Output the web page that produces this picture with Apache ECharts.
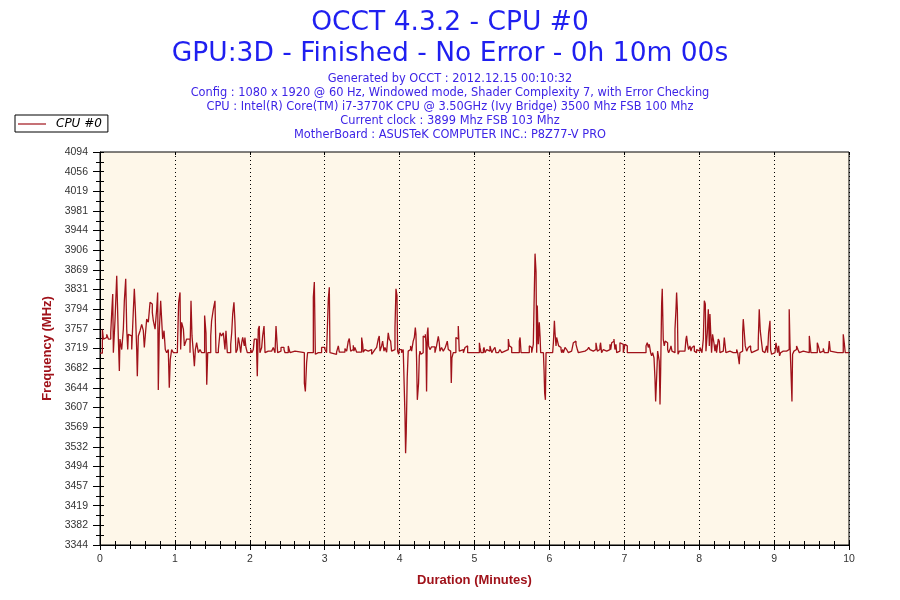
<!DOCTYPE html>
<html>
<head>
<meta charset="utf-8">
<script src="https://cdn.jsdelivr.net/npm/echarts@6/dist/echarts.min.js"></script>
<style>
html,body{margin:0;padding:0;background:#fff;}
#chart{width:900px;height:600px;}
</style>
</head>
<body>
<div id="chart"></div>
<script>
// ---- Text ----
const titleMain = 'OCCT 4.3.2 - CPU #0';
const titleSub = 'GPU:3D - Finished - No Error - 0h 10m 00s';
const infoLines = [
  'Generated by OCCT : 2012.12.15 00:10:32',
  'Config : 1080 x 1920 @ 60 Hz, Windowed mode, Shader Complexity 7, with Error Checking',
  'CPU : Intel(R) Core(TM) i7-3770K CPU @ 3.50GHz (Ivy Bridge) 3500 Mhz FSB 100 Mhz',
  'Current clock : 3899 Mhz FSB 103 Mhz',
  'MotherBoard : ASUSTeK COMPUTER INC.: P8Z77-V PRO'
];
const seriesName = 'CPU #0';
const yAxisName = 'Frequency (MHz)';
const xAxisName = 'Duration (Minutes)';

// ---- Axis ticks ----
const yTickLabels = ['3344','3382','3419','3457','3494','3532','3569','3607','3644','3682','3719',
  '3757','3794','3831','3869','3906','3944','3981','4019','4056','4094'];
const xTickLabels = ['0','1','2','3','4','5','6','7','8','9','10'];

// ---- Data: [elapsed seconds, MHz] ----
const cpu0Samples = [
[0,3710],[1.9,3755],[2.7,3737],[4.0,3740],[5.4,3746],[6.7,3737],[8.6,3749],[9.4,3788],[10.2,3823],[10.7,3711],
[12.0,3772],[13.4,3858],[14.7,3737],[15.5,3676],[16.0,3737],[17.4,3717],[18.7,3756],[19.5,3810],[20.6,3852],[21.4,3756],
[22.2,3717],[22.7,3746],[24.0,3743],[25.4,3717],[26.7,3791],[27.5,3833],[28.3,3794],[29.4,3717],[29.9,3666],[30.7,3743],
[32.1,3753],[33.4,3765],[34.7,3753],[35.5,3721],[36.6,3753],[37.4,3775],[38.7,3769],[40.1,3807],[41.1,3804],[41.9,3788],
[42.7,3772],[44.1,3756],[45.4,3794],[46.2,3826],[46.7,3640],[47.5,3753],[48.6,3810],[49.4,3807],[50.2,3737],[51.3,3753],
[52.3,3717],[53.4,3711],[54.7,3717],[55.5,3644],[56.3,3698],[57.4,3717],[58.8,3711],[62.0,3717],[63.0,3807],[64.1,3826],
[64.6,3717],[65.4,3769],[66.8,3756],[67.6,3724],[68.4,3730],[69.4,3737],[72.1,3711],[72.9,3810],[73.7,3743],[74.8,3711],
[75.6,3685],[76.4,3717],[77.4,3730],[78.8,3711],[80.1,3717],[81.4,3711],[83.8,3782],[84.9,3749],[85.5,3650],[86.3,3711],
[88.7,3743],[89.4,3772],[90.8,3794],[92.1,3810],[92.9,3711],[94.8,3717],[96.1,3749],[97.4,3743],[98.8,3749],[100.1,3717],
[100.9,3753],[102.0,3711],[104.7,3727],[105.5,3749],[106.3,3785],[107.3,3807],[108.1,3769],[108.9,3711],[110.0,3717],[110.8,3740],
[111.6,3730],[112.7,3711],[113.5,3730],[114.3,3740],[115.6,3724],[116.1,3740],[116.9,3721],[118.0,3711],[120.7,3717],[121.7,3711],
[122.8,3717],[123.6,3737],[125.5,3711],[126.0,3666],[126.8,3756],[127.6,3762],[128.1,3711],[129.5,3721],[130.3,3743],[131.4,3762],
[132.2,3711],[133.5,3714],[134.8,3711],[136.2,3714],[137.5,3717],[138.8,3721],[140.2,3711],[141.0,3762],[141.5,3743],[142.3,3711],
[143.6,3714],[145.0,3721],[147.4,3717],[148.2,3711],[150.8,3724],[151.6,3727],[152.2,3711],[153.5,3714],[156.2,3717],[157.5,3711],
[163.7,3653],[164.5,3637],[165.5,3692],[166.3,3711],[168.7,3714],[169.8,3711],[170.9,3817],[171.7,3846],[172.5,3708],[173.5,3711],
[174.9,3714],[176.2,3711],[177.5,3721],[180.2,3717],[181.5,3711],[182.9,3814],[183.7,3836],[184.2,3711],[185.0,3708],[189.5,3712],
[190.9,3724],[191.7,3712],[196.2,3719],[197.6,3714],[198.9,3733],[199.7,3738],[200.8,3714],[201.6,3717],[202.9,3725],[203.4,3714],
[204.2,3721],[205.6,3712],[209.6,3740],[210.4,3727],[210.9,3712],[212.2,3717],[213.6,3714],[214.9,3712],[216.2,3717],[217.6,3708],
[218.9,3712],[220.2,3717],[221.6,3721],[222.9,3737],[223.7,3743],[224.3,3714],[225.6,3724],[226.4,3733],[227.5,3714],[228.3,3721],
[229.6,3712],[230.9,3749],[231.7,3737],[232.8,3733],[233.6,3714],[234.9,3717],[236.3,3759],[237.1,3833],[237.9,3820],[238.4,3714],
[239.2,3708],[239.7,3717],[241.6,3711],[242.9,3717],[244.3,3592],[244.8,3519],[245.3,3557],[246.1,3663],[246.9,3714],[247.7,3717],
[248.8,3724],[249.6,3714],[250.9,3733],[251.8,3740],[252.6,3759],[253.1,3746],[253.6,3698],[254.2,3621],[254.7,3618],[255.2,3653],
[255.8,3705],[256.3,3714],[257.1,3708],[257.9,3711],[258.9,3743],[259.8,3740],[260.6,3746],[261.1,3730],[261.6,3637],[262.2,3749],
[262.7,3759],[263.2,3724],[264.3,3717],[265.6,3722],[268.3,3711],[269.6,3724],[271.0,3742],[271.8,3730],[272.3,3714],[273.6,3721],
[275.0,3714],[276.6,3721],[277.7,3724],[278.2,3733],[279.0,3717],[279.8,3714],[280.9,3711],[281.4,3653],[281.9,3701],[283.0,3711],
[285.1,3740],[286.2,3737],[287.0,3762],[287.8,3714],[288.4,3717],[291.1,3711],[292.4,3721],[293.7,3724],[294.5,3711],[303.9,3730],
[304.4,3721],[305.2,3711],[307.1,3717],[307.6,3721],[308.4,3711],[309.8,3717],[311.1,3714],[312.4,3724],[313.2,3721],[313.8,3711],
[315.1,3717],[316.4,3721],[317.2,3711],[319.1,3714],[320.4,3717],[321.8,3711],[323.1,3714],[324.4,3711],[325.8,3717],[327.1,3737],
[327.9,3724],[328.5,3721],[329.8,3711],[335.9,3733],[336.5,3740],[337.3,3711],[343.9,3724],[345.0,3721],[345.8,3711],[347.1,3727],
[347.7,3801],[348.5,3900],[349.3,3865],[349.8,3711],[350.3,3801],[351.1,3727],[351.9,3769],[352.5,3743],[353.0,3711],[353.8,3714],
[354.6,3711],[355.2,3714],[355.7,3679],[356.2,3634],[356.8,3621],[357.3,3711],[362.6,3708],[363.2,3730],[364.0,3772],[364.5,3749],
[365.3,3724],[365.8,3740],[366.6,3737],[367.4,3724],[368.5,3721],[369.3,3717],[369.8,3711],[370.6,3717],[371.2,3711],[372.5,3721],
[373.8,3717],[375.2,3711],[376.5,3714],[377.8,3711],[379.2,3730],[380.5,3733],[381.3,3727],[382.4,3717],[383.2,3711],[384.5,3714],
[388.5,3711],[389.3,3717],[390.4,3714],[391.5,3721],[392.5,3717],[393.8,3714],[395.2,3711],[396.5,3717],[397.3,3730],[397.8,3733],
[398.4,3714],[399.2,3717],[400.5,3724],[401.0,3730],[401.8,3711],[403.2,3717],[404.5,3714],[405.9,3711],[407.2,3717],[408.5,3727],
[409.1,3717],[409.9,3730],[410.7,3733],[411.7,3737],[412.5,3717],[413.3,3727],[413.9,3711],[415.2,3714],[416.5,3730],[417.9,3727],
[419.2,3711],[420.5,3727],[421.3,3724],[422.4,3711],[437.4,3724],[438.4,3730],[439.2,3721],[440.0,3727],[441.1,3711],[441.9,3705],
[442.7,3711],[443.8,3701],[444.6,3660],[445.1,3618],[445.9,3663],[446.7,3714],[447.5,3717],[448.0,3695],[448.6,3612],[449.1,3673],
[449.9,3804],[450.4,3833],[451.2,3737],[452.0,3724],[452.8,3733],[453.9,3730],[454.7,3717],[455.5,3711],[456.6,3717],[457.4,3724],
[458.2,3714],[459.3,3711],[460.6,3756],[461.4,3794],[461.9,3826],[462.5,3794],[463.0,3708],[464.1,3714],[465.9,3711],[467.3,3714],
[468.6,3711],[469.4,3737],[469.9,3743],[470.7,3727],[471.5,3717],[472.6,3724],[473.4,3714],[474.2,3721],[475.3,3724],[476.1,3714],
[476.9,3711],[477.9,3717],[479.3,3714],[480.6,3721],[481.4,3717],[482.2,3711],[483.3,3737],[484.1,3810],[484.9,3804],[485.4,3714],
[486.5,3749],[487.3,3794],[488.1,3724],[488.6,3785],[489.9,3711],[490.7,3746],[491.8,3730],[492.6,3714],[493.4,3727],[493.9,3711],
[495.3,3737],[496.1,3733],[496.6,3711],[497.9,3714],[499.3,3711],[500.1,3740],[500.9,3737],[501.4,3711],[502.5,3714],[504.6,3711],
[505.2,3714],[505.9,3711],[507.3,3714],[508.6,3711],[510.0,3717],[510.8,3711],[511.6,3698],[512.1,3689],[512.6,3711],[514.0,3714],
[514.8,3749],[515.3,3775],[516.9,3724],[518.0,3714],[519.3,3721],[520.1,3724],[521.2,3717],[522.0,3711],[523.3,3714],[524.6,3711],
[526.0,3717],[527.3,3733],[528.1,3794],[528.9,3753],[530.0,3730],[530.8,3714],[531.9,3711],[532.7,3714],[534.0,3724],[534.8,3711],
[535.6,3749],[536.7,3772],[537.2,3717],[538.0,3708],[539.3,3711],[540.7,3714],[541.5,3730],[542.0,3733],[542.8,3711],[543.6,3724],
[544.4,3705],[545.2,3711],[546.0,3714],[547.3,3711],[548.7,3714],[550.0,3711],[551.3,3717],[552.1,3794],[552.7,3730],[553.5,3676],
[554.3,3618],[554.8,3708],[555.9,3714],[557.0,3717],[558.0,3724],[559.1,3717],[560.2,3711],[561.2,3714],[563.4,3711],[568.2,3743],
[569.5,3711],[574.6,3730],[575.4,3724],[576.2,3717],[576.7,3711],[578.0,3714],[579.4,3719],[580.2,3711],[583.4,3714],[584.2,3733],
[585.0,3714],[586.1,3711],[590.9,3714],[591.7,3711],[595.4,3746],[596.2,3730],[597.0,3711],[600,3711]
];

// ---- Build ----
const yMin = Number(yTickLabels[0]);
const yMax = Number(yTickLabels[yTickLabels.length - 1]);
const yStep = (yMax - yMin) / (yTickLabels.length - 1);
const yLabelValues = yTickLabels.map((_, i) => yMin + i * yStep);
const yTickValues = [];
for (let i = 0; i < yTickLabels.length * 2 - 1; i++) yTickValues.push(yMin + i * yStep / 2);
const xMax = Number(xTickLabels[xTickLabels.length - 1]);
const lineData = cpu0Samples.map(p => [p[0] / 60, p[1]]);

const FONT = 'DejaVu Sans';
const AXFONT = 'Liberation Sans';
const blue1 = '#1f1ff0';
const blue2 = '#3d24e6';
const darkRed = '#a0121a';

const titles = [
  { text: titleMain, left: 'center', top: 5, textStyle: { fontFamily: FONT, fontSize: 26.5, fontWeight: 'normal', color: blue1 } },
  { text: titleSub, left: 'center', top: 36, textStyle: { fontFamily: FONT, fontSize: 26.5, fontWeight: 'normal', color: blue1 } }
];
infoLines.forEach((t, i) => {
  titles.push({ text: t, left: 'center', top: 68.5 + i * 14, textStyle: { fontFamily: FONT, fontSize: 11.4, fontWeight: 'normal', color: blue2 } });
});

const chart = echarts.init(document.getElementById('chart'), null, { renderer: 'canvas' });
chart.setOption({
  animation: false,
  backgroundColor: '#ffffff',
  title: titles,
  legend: {
    data: [{ name: seriesName, icon: 'rect' }],
    left: 15, top: 115,
    orient: 'vertical',
    borderColor: '#000', borderWidth: 1, borderRadius: 0,
    padding: [3, 6, 2, 3],
    itemWidth: 28, itemHeight: 1.2, itemGap: 0,
    textStyle: { fontFamily: FONT, fontSize: 12, fontStyle: 'italic', color: '#000', padding: [0, 0, 0, 5] }
  },
  grid: {
    left: 100, right: 51, top: 152, bottom: 55,
    show: true, backgroundColor: '#fef7e9', borderColor: '#000', borderWidth: 1
  },
  xAxis: [
    {
      type: 'value', min: 0, max: xMax, interval: 1,
      name: xAxisName, nameLocation: 'middle', nameGap: 29,
      nameTextStyle: { fontFamily: AXFONT, fontSize: 13, fontWeight: 'bold', color: darkRed },
      axisLine: { lineStyle: { color: '#000', width: 1 } },
      axisTick: { show: true, length: 5, lineStyle: { color: '#000' } },
      minorTick: { show: true, splitNumber: 5, length: 4, lineStyle: { color: '#000' } },
      axisLabel: { fontFamily: AXFONT, fontSize: 10.5, color: '#333', margin: 9,
        formatter: v => xTickLabels[Math.round(v)] },
      splitLine: { show: true, lineStyle: { color: '#000', type: [1, 3], width: 1 } }
    },
    {
      type: 'value', min: 0, max: xMax, interval: 1, position: 'bottom',
      axisLine: { show: false },
      axisTick: { show: true, inside: true, length: 4, lineStyle: { color: '#000' } },
      minorTick: { show: true, splitNumber: 5, length: 4, lineStyle: { color: '#000' } },
      axisLabel: { show: false }, splitLine: { show: false }
    },
    {
      type: 'value', min: 0, max: xMax, interval: 1, position: 'top',
      axisLine: { show: false },
      axisTick: { show: true, inside: true, length: 3, lineStyle: { color: '#000' } },
      axisLabel: { show: false }, splitLine: { show: false }
    }
  ],
  yAxis: [
    {
      type: 'value', min: yMin, max: yMax,
      name: yAxisName, nameLocation: 'middle', nameGap: 41, nameRotate: 90,
      nameTextStyle: { fontFamily: AXFONT, fontSize: 13, fontWeight: 'bold', color: darkRed },
      axisLine: { show: true, lineStyle: { color: '#000', width: 1 } },
      axisTick: { show: true, length: 7, customValues: yLabelValues, lineStyle: { color: '#000' } },
      axisLabel: { fontFamily: AXFONT, fontSize: 10.5, color: '#333', margin: 12,
        customValues: yLabelValues,
        formatter: v => yTickLabels[Math.round((v - yMin) / yStep)] },
      splitLine: { show: false }
    },
    {
      type: 'value', min: yMin, max: yMax, position: 'left',
      axisLine: { show: false },
      axisTick: { show: true, inside: true, length: 4, customValues: yTickValues, lineStyle: { color: '#000' } },
      axisLabel: { show: false }, splitLine: { show: false }
    },
    {
      type: 'value', min: yMin, max: yMax, position: 'left',
      axisLine: { show: false },
      axisTick: { show: true, length: 4, customValues: yTickValues, lineStyle: { color: '#000' } },
      axisLabel: { show: false }, splitLine: { show: false }
    }
  ],
  series: [{
    name: seriesName,
    type: 'line',
    xAxisIndex: 0, yAxisIndex: 0,
    step: 'end',
    data: lineData,
    symbol: 'none',
    lineStyle: { color: darkRed, width: 1.3 },
    itemStyle: { color: darkRed }
  }]
});
</script>
</body>
</html>
